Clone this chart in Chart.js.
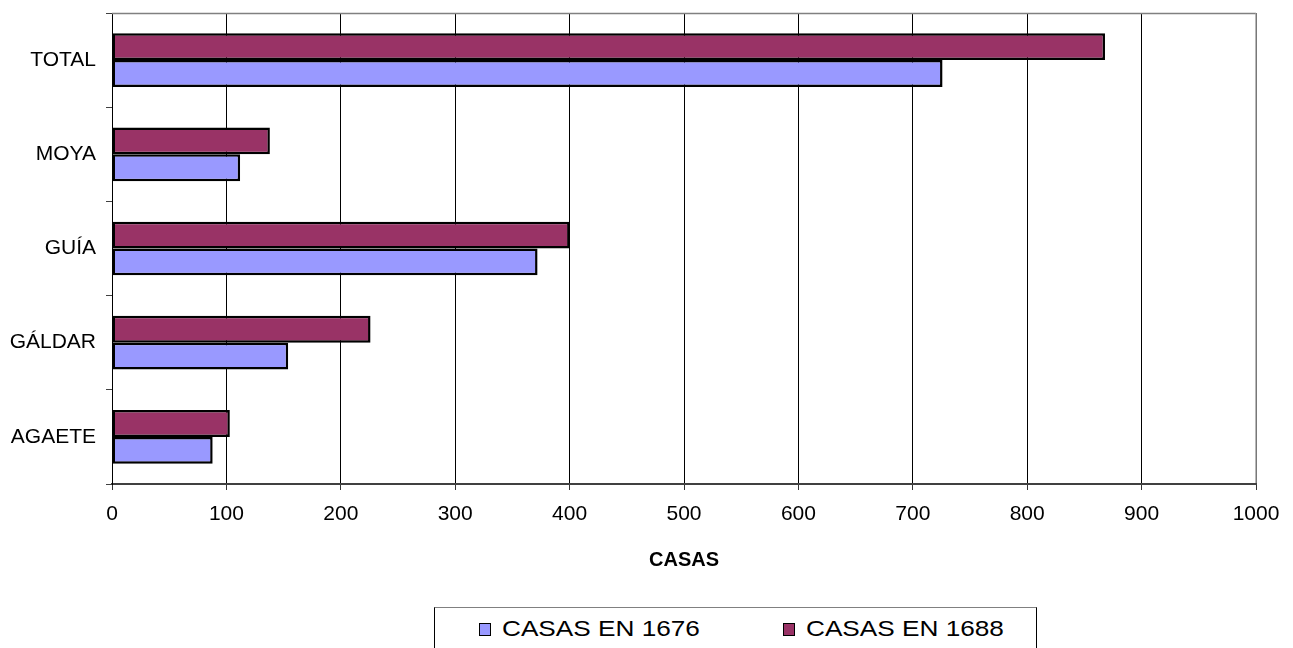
<!DOCTYPE html>
<html lang="es">
<head>
<meta charset="utf-8">
<title>Casas 1676 - 1688</title>
<script src="https://cdn.jsdelivr.net/npm/chart.js@4/dist/chart.umd.min.js"></script>
<style>
  html, body { margin: 0; padding: 0; background: #fff; overflow: hidden; }
  #wrap { position: relative; width: 1293px; height: 648px; }
  #chart { position: absolute; left: 0; top: 0; }
  #legend {
    position: absolute; left: 434px; top: 607px; width: 603px; height: 60px;
    border: 1px solid #000; border-top-color: #808080; box-sizing: border-box;
    font-family: "Liberation Sans", Arial, sans-serif; background: #fff;
  }
  .sw { position: absolute; top: 15px; width: 10px; height: 11px; border: 1.5px solid #000; }
  .lt {
    position: absolute; top: 8px; font-size: 22px; line-height: 26px; color: #000;
    white-space: nowrap; transform: scaleX(1.19); transform-origin: left center;
  }
</style>
</head>
<body>
<div id="wrap">
  <canvas id="chart" width="1293" height="648"></canvas>
  <div id="legend"></div>
</div>
<script>
// Municipios (de arriba abajo)
const categories = ['TOTAL', 'MOYA', 'GUÍA', 'GÁLDAR', 'AGAETE'];
// Número de casas por año
const casas1676 = [726, 112, 372, 154, 88];
const casas1688 = [868, 138, 400, 226, 103];
// Marcas del eje horizontal
const xTicks = [0, 100, 200, 300, 400, 500, 600, 700, 800, 900, 1000];

const seriesNames = ['CASAS EN 1676', 'CASAS EN 1688'];
const seriesColors = ['#9999FF', '#993366'];

Chart.defaults.font.family = '"Liberation Sans", Arial, sans-serif';
Chart.defaults.color = '#000';

// Marco gris superior y derecho del área de trazado
const frame = {
  id: 'frame',
  afterDraw(chart) {
    const { ctx, chartArea: a } = chart;
    ctx.save();
    ctx.lineWidth = 1.5;
    ctx.strokeStyle = '#808080';
    ctx.beginPath();
    ctx.moveTo(a.left, a.top + 0.5);
    ctx.lineTo(a.right, a.top + 0.5);
    ctx.stroke();
    ctx.strokeStyle = '#a0a0a0';
    ctx.beginPath();
    ctx.moveTo(a.right, a.top);
    ctx.lineTo(a.right, a.bottom - 1);
    ctx.stroke();
    ctx.restore();
  }
};

// Sin márgenes automáticos: el área de trazado la fijan los paddings del layout
function noScalePadding(scale) {
  scale.paddingTop = 0;
  scale.paddingBottom = 0;
  scale.paddingLeft = 0;
  scale.paddingRight = 0;
}

new Chart(document.getElementById('chart'), {
  type: 'bar',
  data: {
    labels: categories,
    datasets: [
      {
        label: seriesNames[1], data: casas1688,
        backgroundColor: seriesColors[1], borderColor: '#000', borderWidth: 2.5, borderSkipped: false
      },
      {
        label: seriesNames[0], data: casas1676,
        backgroundColor: seriesColors[0], borderColor: '#000', borderWidth: 2.5, borderSkipped: false
      }
    ]
  },
  options: {
    indexAxis: 'y',
    responsive: false,
    animation: false,
    events: [],
    layout: { padding: { left: 0, top: 13, right: 37, bottom: 73 } },
    datasets: { bar: { categoryPercentage: 0.57, barPercentage: 1 } },
    plugins: { legend: { display: false }, tooltip: { enabled: false } },
    scales: {
      x: {
        type: 'linear', position: 'bottom', min: 0, max: 1000,
        afterBuildTicks(scale) { scale.ticks = xTicks.map(v => ({ value: v })); },
        ticks: {
          font: { size: 21 }, padding: 12, color: '#000', maxRotation: 0,
          callback: v => String(v)
        },
        grid: { color: '#000', lineWidth: 1, tickLength: 6, tickColor: '#333' },
        border: { color: '#404040', width: 2 },
        title: {
          display: true, text: 'CASAS', color: '#000',
          font: { size: 20, weight: 'bold' }, padding: { top: 0, bottom: 3 }
        },
        afterFit(scale) { scale.height = 91; noScalePadding(scale); }
      },
      y: {
        position: 'left',
        ticks: { font: { size: 21 }, padding: 10, color: '#000' },
        grid: { drawOnChartArea: false, tickLength: 6, color: '#404040', offset: true },
        border: { color: '#000', width: 1 },
        afterFit(scale) { scale.width = 112; noScalePadding(scale); }
      }
    }
  },
  plugins: [frame]
});

// Leyenda
const legend = document.getElementById('legend');
const items = [
  { sw: 44, tx: 67 },
  { sw: 348, tx: 371 }
];
seriesNames.forEach((name, i) => {
  const s = document.createElement('div');
  s.className = 'sw';
  s.style.left = items[i].sw + 'px';
  s.style.background = seriesColors[i];
  legend.appendChild(s);
  const t = document.createElement('div');
  t.className = 'lt';
  t.style.left = items[i].tx + 'px';
  t.textContent = name;
  legend.appendChild(t);
});
</script>
</body>
</html>
